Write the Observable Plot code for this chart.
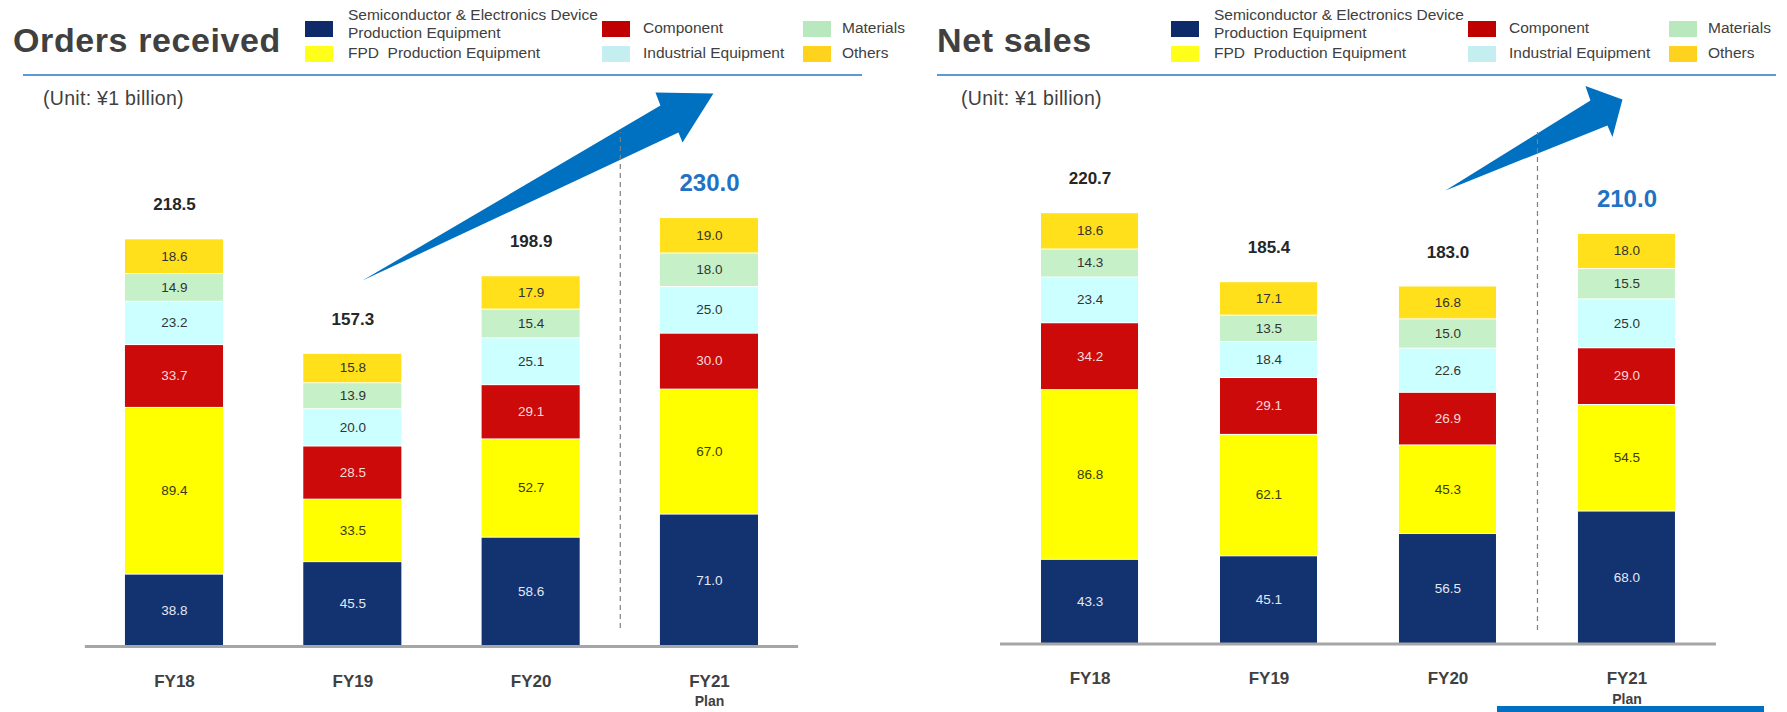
<!DOCTYPE html>
<html><head><meta charset="utf-8">
<script src="https://cdn.jsdelivr.net/npm/d3@7"></script>
<script src="https://cdn.jsdelivr.net/npm/@observablehq/plot@0.6"></script>
<style>
body{margin:0;background:#fff;}
#root{position:relative;width:1787px;height:712px;overflow:hidden;font-family:"Liberation Sans",Arial,sans-serif;color:#404040;}
.abs{position:absolute;white-space:nowrap;}
.title{font-weight:bold;font-size:34px;line-height:34px;letter-spacing:0.6px;color:#404040;}
.lg{font-size:15.5px;line-height:18px;color:#404040;}
.sw{position:absolute;width:28px;height:16px;}
.hrule{position:absolute;height:2px;background:#5B9BD5;}
.unit{font-size:19.5px;line-height:19.5px;letter-spacing:0.3px;color:#404040;}
.chart{position:absolute;top:80px;}
</style></head><body><div id="root"></div>
<script>
// ---------- data ----------
const categories = ["FY18", "FY19", "FY20", "FY21"];
const planLabel = "Plan";
const segmentNames = [
  "Semiconductor & Electronics Device Production Equipment",
  "FPD Production Equipment",
  "Component",
  "Industrial Equipment",
  "Materials",
  "Others"
];
const titles = ["Orders received", "Net sales"];
const unitText = "(Unit: ¥1 billion)";

// Orders received (¥ billion)
const ordersSemi = [38.8, 45.5, 58.6, 71.0];
const ordersFPD = [89.4, 33.5, 52.7, 67.0];
const ordersComponent = [33.7, 28.5, 29.1, 30.0];
const ordersIndustrial = [23.2, 20.0, 25.1, 25.0];
const ordersMaterials = [14.9, 13.9, 15.4, 18.0];
const ordersOthers = [18.6, 15.8, 17.9, 19.0];
const ordersTotals = [218.5, 157.3, 198.9, 230.0];

// Net sales (¥ billion)
const salesSemi = [43.3, 45.1, 56.5, 68.0];
const salesFPD = [86.8, 62.1, 45.3, 54.5];
const salesComponent = [34.2, 29.1, 26.9, 29.0];
const salesIndustrial = [23.4, 18.4, 22.6, 25.0];
const salesMaterials = [14.3, 13.5, 15.0, 15.5];
const salesOthers = [18.6, 17.1, 16.8, 18.0];
const salesTotals = [220.7, 185.4, 183.0, 210.0];

// ---------- styles ----------
const segmentColors = ["#133270", "#FFFF00", "#CC0A0A", "#CCFFFF", "#C6F0C8", "#FFE01B"];
const legendColors = ["#0F2A68", "#FFFF1A", "#C00000", "#C5EEF0", "#B9E8BE", "#FFD21E"];
const labelColors = ["#E4E8F2", "#3A3A10", "#F6DADA", "#333333", "#333333", "#333333"];

const root = document.getElementById("root");
function addDiv(cls, css, html) {
  const d = document.createElement("div");
  d.className = cls;
  Object.assign(d.style, css);
  if (html != null) d.innerHTML = html;
  root.appendChild(d);
  return d;
}

// ---------- headers ----------
function header(opts) {
  const {titleX, legendDX, ruleX, unitX, title} = opts;
  addDiv("abs title", {left: titleX + "px", top: "23px"}).textContent = title;
  // legend layout: [swatchX, textX, swatchY, textTop]
  const lay = [
    [305, 348, 21, 6.2],
    [305, 348, 46, 44.2],
    [602, 643, 21, 19.2],
    [602, 643, 46, 44.2],
    [803, 842, 21, 19.2],
    [803, 842, 46, 44.2]
  ];
  const texts = [
    "Semiconductor &amp; Electronics Device<br>Production Equipment",
    "FPD&nbsp; Production Equipment",
    segmentNames[2], segmentNames[3], segmentNames[4], segmentNames[5]
  ];
  lay.forEach(([sx, tx, sy, ty], k) => {
    addDiv("sw", {left: (sx + legendDX) + "px", top: sy + "px", background: legendColors[k]});
    addDiv("abs lg", {left: (tx + legendDX) + "px", top: ty + "px"}, texts[k]);
  });
  addDiv("hrule", {left: ruleX + "px", top: "74px", width: "839px"});
  addDiv("abs unit", {left: unitX + "px", top: "88.5px"}).textContent = unitText;
}
header({titleX: 13, legendDX: 0, ruleX: 23, unitX: 43, title: titles[0]});
header({titleX: 937, legendDX: 866, ruleX: 937, unitX: 961, title: titles[1]});
addDiv("abs", {left: "1497px", top: "706px", width: "267px", height: "6px", background: "#0070C0"});

// ---------- charts ----------
function panel(p) {
  const segs = [];
  categories.forEach((c, i) => {
    let acc = 0;
    p.series.forEach((vals, k) => {
      const v = vals[i];
      segs.push({i, k, y1: acc, y2: acc + v, v, color: segmentColors[k], tcolor: labelColors[k]});
      acc += v;
    });
  });
  const hw = p.barWidth / 2;
  const tot = p.totals.map((t, i) => ({i, t}));
  const normalTot = tot.filter(d => d.i < 3);
  const planTot = tot.filter(d => d.i === 3);
  const svg = Plot.plot({
    width: p.width,
    height: 632,
    marginTop: 0,
    marginBottom: p.marginBottom,
    marginLeft: 0,
    marginRight: 0,
    x: {type: "linear", domain: p.xDomain, axis: null},
    y: {domain: [0, p.yMax], axis: null},
    color: {type: "identity"},
    style: {fontFamily: "'Liberation Sans', Arial, sans-serif", background: "transparent", overflow: "visible"},
    marks: [
      Plot.line(p.arrow, {x: "i", y: "v", fill: "#0070C0", stroke: "none"}),
      Plot.ruleX([2.5], {y1: p.dash[0], y2: p.dash[1], stroke: "#7F7F7F", strokeWidth: 1.2, strokeDasharray: "5,4"}),
      Plot.rect(segs, {x1: d => d.i - hw, x2: d => d.i + hw, y1: "y1", y2: "y2", fill: "color", insetTop: 1}),
      Plot.text(segs, {x: "i", y: d => (d.y1 + d.y2) / 2, text: d => d.v.toFixed(1), fill: "tcolor", fontSize: 13.5}),
      Plot.ruleY([0], {x1: -0.5, x2: 3.5, stroke: "#A6A6A6", strokeWidth: 3}),
      Plot.text(normalTot, {x: "i", y: "t", dy: -34, text: d => d.t.toFixed(1), fill: "#262626", fontSize: 17, fontWeight: "bold"}),
      Plot.text(planTot, {x: "i", y: "t", dy: -34, text: d => d.t.toFixed(1), fill: "#1F72C4", fontSize: 24, fontWeight: "bold"}),
      Plot.text(categories, {x: (d, i) => i, y: 0, dy: p.labelDy, text: d => d, fill: "#404040", fontSize: 17, fontWeight: "bold"}),
      Plot.text([planLabel], {x: 3, y: 0, dy: p.planDy, text: d => d, fill: "#404040", fontSize: 14, fontWeight: "bold"})
    ]
  });
  svg.classList.add("chart");
  svg.style.left = p.left + "px";
  svg.style.position = "absolute";
  svg.style.top = "80px";
  root.appendChild(svg);
}

panel({
  left: 0, width: 893,
  series: [ordersSemi, ordersFPD, ordersComponent, ordersIndustrial, ordersMaterials, ordersOthers],
  totals: ordersTotals,
  xDomain: [-0.9757, 4.032], yMax: 303.5, marginBottom: 66, barWidth: 0.55,
  labelDy: 35, planDy: 55,
  dash: [9.6, 275.6],
  arrow: [
    {i: 1.054, v: 196.2}, {i: 2.725, v: 290.1}, {i: 2.697, v: 297.1},
    {i: 3.022, v: 296.5}, {i: 2.849, v: 270.2}, {i: 2.826, v: 275.6}
  ]
});

panel({
  left: 893, width: 894,
  series: [salesSemi, salesFPD, salesComponent, salesIndustrial, salesMaterials, salesOthers],
  totals: salesTotals,
  xDomain: [-1.098, 3.897], yMax: 288.2, marginBottom: 68.5, barWidth: 0.542,
  labelDy: 35, planDy: 56,
  dash: [6.9, 261.6],
  arrow: [
    {i: 1.986, v: 232.0}, {i: 2.796, v: 278.0}, {i: 2.768, v: 285.4},
    {i: 2.975, v: 278.5}, {i: 2.919, v: 259.3}, {i: 2.891, v: 265.2}
  ]
});
</script></body></html>
